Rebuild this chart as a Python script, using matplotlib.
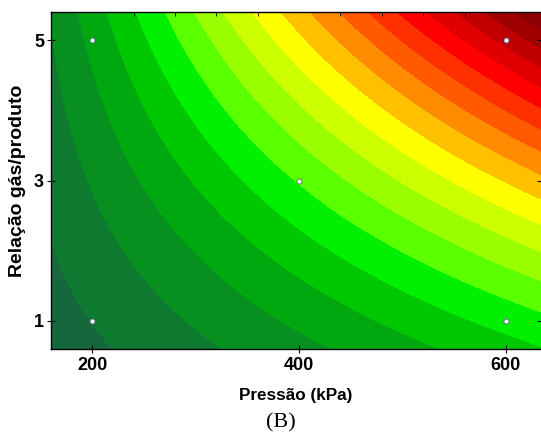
import matplotlib
matplotlib.use("Agg")
import matplotlib.pyplot as plt
import numpy as np

# design points (pressure kPa, gas/product ratio)
pressao = [200, 200, 400, 600, 600]
relacao = [1, 5, 3, 1, 5]

# fitted response surface, coded units X=(P-400)/200, Y=(R-3)/2
b0, b1, b2, b12, b22, b122 = 5.07, 3.985, 3.29, 2.18, 0.40, 0.36

x_ticks = [200, 400, 600]
y_ticks = [1, 3, 5]
levels = [-10, 0, 1, 2, 3, 4, 5, 6, 7, 8, 9, 10, 11, 12, 13, 14, 15, 16, 17, 40]
band_colors = ["#14683c", "#0e7a30", "#079020", "#00a810", "#00c800", "#00f000",
               "#5aff00", "#99ff00", "#ccff00", "#ffff00", "#ffc000", "#ff8c00",
               "#ff5a00", "#ff3000", "#ff0000", "#e00000", "#c00000", "#a00000",
               "#8b0000"]

P, R = np.meshgrid(np.linspace(160, 640, 400), np.linspace(0.6, 5.4, 400))
X, Y = (P - 400) / 200, (R - 3) / 2
Z = b0 + b1 * X + b2 * Y + b12 * X * Y + b22 * Y**2 + b122 * X * Y**2

fig = plt.figure(figsize=(5.41, 4.40), dpi=100)
ax = fig.add_axes([51 / 541, 91 / 440, 490 / 541, 337 / 440])
cs = ax.contourf(P, R, Z, levels=levels, colors=band_colors)
cs.set_edgecolor("face")
cs.set_linewidth(0.6)
ax.scatter(pressao, relacao, s=13, facecolor="white", edgecolor="#5a6a8a",
           linewidths=0.6, zorder=3)

ax.set_xlim(160, 634)
ax.set_ylim(0.6, 5.4)
ax.set_xticks(x_ticks)
ax.set_yticks(y_ticks)
ax.set_xticks(np.arange(200, 634, 40), minor=True)
ax.tick_params(axis="both", which="major", direction="inout", length=6, width=0.8,
               labelsize=13, pad=3, top=False, right=True)
ax.tick_params(axis="y", which="major", pad=2)
ax.tick_params(axis="x", which="minor", direction="in", length=3, width=0.6,
               top=True, bottom=False)
ax.tick_params(axis="y", which="minor", left=False)
for lab in ax.get_xticklabels() + ax.get_yticklabels():
    lab.set_fontweight("bold")
    lab.set_fontfamily("Liberation Sans")
ax.spines["right"].set_visible(False)
for s in ("top", "left", "bottom"):
    ax.spines[s].set_linewidth(1.0)

ax.set_xlabel("Pressão (kPa)", fontsize=12.3, fontweight="bold",
              family="Liberation Sans", labelpad=10)
ax.set_ylabel("Relação gás/produto", fontsize=14, fontweight="bold",
              family="Liberation Sans", labelpad=6)
fig.text(281 / 541, 1 - 423 / 440, "(B)", ha="center", va="center",
         fontsize=16, family="Liberation Serif")

fig.savefig("out.png", dpi=100)
